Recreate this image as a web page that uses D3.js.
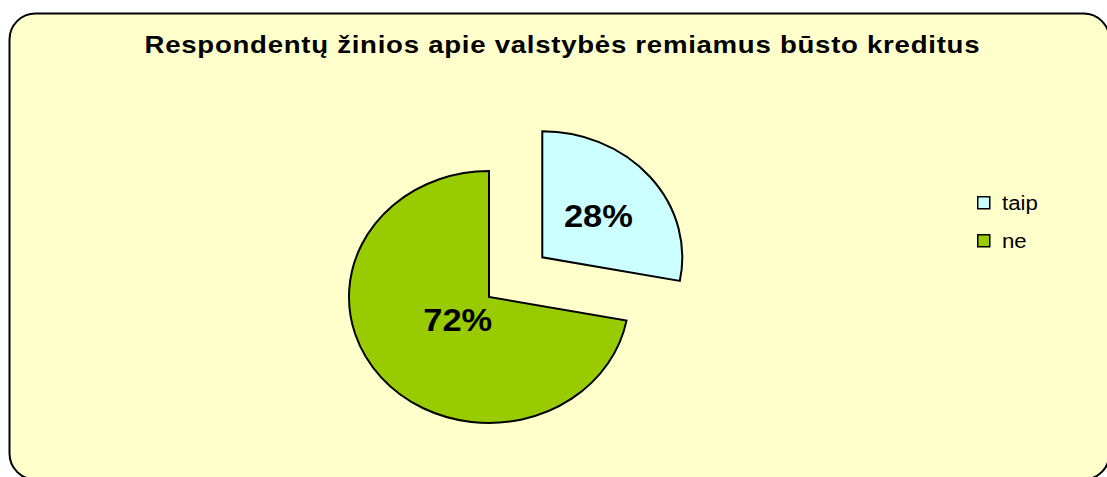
<!DOCTYPE html>
<html>
<head>
<meta charset="utf-8">
<script src="https://cdn.jsdelivr.net/npm/d3@7"></script>
<style>
  html, body { margin: 0; padding: 0; background: #ffffff; }
  svg { display: block; }
  text { font-family: "Liberation Sans", Arial, sans-serif; fill: #000; }
</style>
</head>
<body>
<svg id="chart" width="1107" height="477"></svg>
<script>
// Chart data
const title = "Respondentų žinios apie valstybės remiamus būsto kreditus";
const categories = ["taip", "ne"];
const values = [28, 72];
const colors = ["#CCFFFF", "#99CC00"];

// Layout
const W = 1107, H = 477;
const stretch = 140 / 126;          // horizontal stretch of the whole plot
const titleStretch = 1.2;
const cx = 489, cy = 297, ry = 126; // pie centre and vertical radius
const explodeFrac = [0.494, 0];     // slice pull-out as a fraction of the radius
const labelFrac = [0.52, 0.29];     // label distance from slice vertex

const svg = d3.select("#chart");

// Rounded frame
svg.append("rect")
  .attr("x", 9.5).attr("y", 13.5)
  .attr("width", 1100).attr("height", 466)
  .attr("rx", 26).attr("ry", 26)
  .attr("fill", "#FFFFCC")
  .attr("stroke", "#000").attr("stroke-width", 2);

// Title
svg.append("text")
  .attr("transform", `translate(${562},${53}) scale(${titleStretch},1)`)
  .attr("text-anchor", "middle")
  .attr("font-size", 23).attr("font-weight", "bold")
  .attr("textLength", 835 / titleStretch).attr("lengthAdjust", "spacing")
  .text(title);

const pie = d3.pie().sort(null).value(d => d)(values);
const arc = d3.arc().innerRadius(0).outerRadius(ry);

const g = svg.append("g").attr("transform", `translate(${cx},${cy})`);

pie.forEach((p, i) => {
  const mid = (p.startAngle + p.endAngle) / 2;
  const ox = Math.sin(mid) * explodeFrac[i] * ry * stretch;
  const oy = -Math.cos(mid) * explodeFrac[i] * ry;
  const sg = g.append("g").attr("transform", `translate(${ox},${oy})`);
  sg.append("path")
    .attr("d", arc(p))
    .attr("transform", `scale(${stretch},1)`)
    .attr("fill", colors[i])
    .attr("stroke", "#000")
    .attr("stroke-width", 2)
    .attr("stroke-linejoin", "miter")
    .attr("vector-effect", "non-scaling-stroke");

  const lr = labelFrac[i] * ry;
  const lx = Math.sin(mid) * lr * stretch;
  const ly = -Math.cos(mid) * lr;
  sg.append("text")
    .attr("transform", `translate(${lx},${ly}) scale(${stretch},1)`)
    .attr("text-anchor", "middle")
    .attr("dy", "0.36em")
    .attr("font-size", 31).attr("font-weight", "bold")
    .text(Math.round(p.data) + "%");
});

// Legend
const legend = svg.append("g").attr("transform", "translate(977,196)");
const row = legend.selectAll("g").data(categories).join("g")
  .attr("transform", (d, i) => `translate(0,${i * 38})`);
row.append("rect")
  .attr("x", 0.75).attr("y", 0.75).attr("width", 12).attr("height", 12)
  .attr("fill", (d, i) => colors[i])
  .attr("stroke", "#000").attr("stroke-width", 1.5);
row.append("text")
  .attr("transform", `translate(25,14) scale(${stretch},1)`)
  .attr("font-size", 20)
  .text(d => d);
</script>
</body>
</html>
